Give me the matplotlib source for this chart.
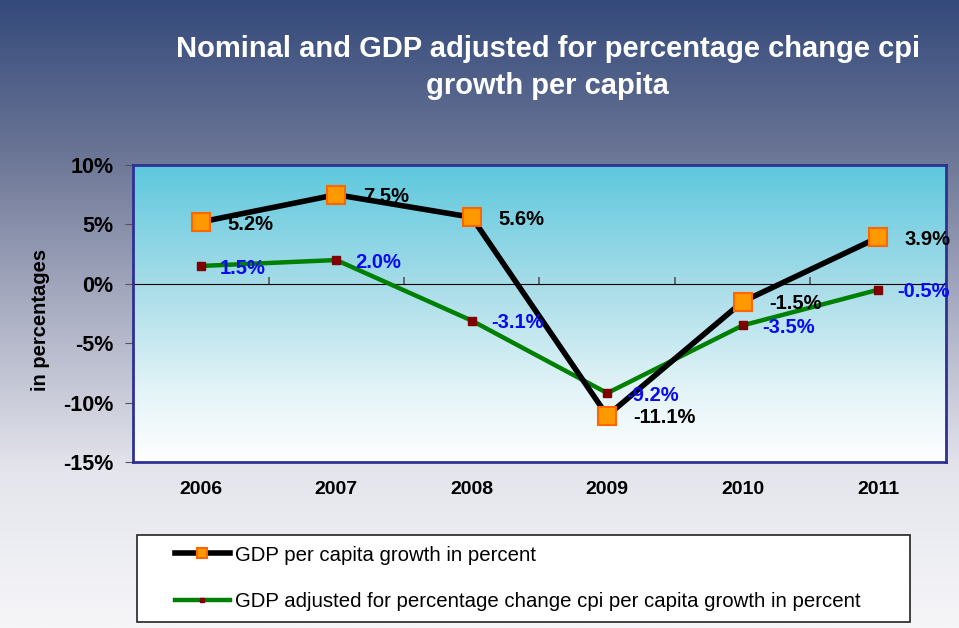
import numpy as np
import matplotlib
matplotlib.use("Agg")
import matplotlib.pyplot as plt
from matplotlib.colors import LinearSegmentedColormap
from matplotlib.patches import Rectangle

# data
years = ['2006', '2007', '2008', '2009', '2010', '2011']
gdp_growth = [5.2, 7.5, 5.6, -11.1, -1.5, 3.9]
gdp_adjusted = [1.5, 2.0, -3.1, -9.2, -3.5, -0.5]
y_ticks = [-15, -10, -5, 0, 5, 10]

plt.rcParams['font.family'] = ['Liberation Sans', 'DejaVu Sans']

fig = plt.figure(figsize=(9.59, 6.28), dpi=100)

# figure background gradient (dark slate blue -> near white)
bg = fig.add_axes([0, 0, 1, 1], zorder=-10)
bg_cmap = LinearSegmentedColormap.from_list('bg', [
    (0.0, (52/255, 74/255, 123/255)),
    (0.25, (108/255, 118/255, 150/255)),
    (0.5, (172/255, 176/255, 196/255)),
    (0.75, (228/255, 229/255, 236/255)),
    (1.0, (246/255, 246/255, 249/255))])
bg.imshow(np.linspace(0, 1, 256).reshape(-1, 1), cmap=bg_cmap, aspect='auto',
          extent=[0, 1, 0, 1], origin='upper')
bg.set_axis_off()

ax = fig.add_axes([0.1387, 0.2643, 0.8477, 0.473])
x = np.arange(len(years))

# plot area gradient (cyan -> white)
pa_cmap = LinearSegmentedColormap.from_list('pa', [
    (0.0, (92/255, 200/255, 221/255)),
    (0.4, (166/255, 220/255, 232/255)),
    (0.75, (226/255, 243/255, 247/255)),
    (1.0, (255/255, 255/255, 255/255))])
ax.imshow(np.linspace(0, 1, 256).reshape(-1, 1), cmap=pa_cmap, aspect='auto',
          extent=[0, 1, 0, 1], origin='upper', transform=ax.transAxes, zorder=0)

ax.plot(x, gdp_growth, color='black', lw=4, marker='s', ms=13,
        mfc='#FF9900', mec='#FF6600', mew=1.5, zorder=4,
        label='GDP per capita growth in percent')
ax.plot(x, gdp_adjusted, color='#008000', lw=3.2, marker='s', ms=5.5,
        mfc='#800000', mec='#800000', zorder=3,
        label='GDP adjusted for percentage change cpi per capita growth in percent')

for xi, v in zip(x, gdp_growth):
    ax.annotate('%.1f%%' % v, (xi, v), xytext=(19, -1.5), textcoords='offset points',
                ha='left', va='center', fontsize=14.5, fontweight='bold',
                color='black', zorder=6)
for xi, v in zip(x, gdp_adjusted):
    ax.annotate('%.1f%%' % v, (xi, v), xytext=(14, -1.5), textcoords='offset points',
                ha='left', va='center', fontsize=14.5, fontweight='bold',
                color='#0A0AF0', zorder=6)

ax.set_xlim(-0.5, len(years) - 0.5)
ax.set_ylim(-15, 10)
ax.set_yticks(y_ticks)
ax.set_yticklabels(['%d%%' % t for t in y_ticks], fontsize=15.5, fontweight='bold')
ax.set_xticks(x)
ax.set_xticklabels(years, fontsize=14, fontweight='bold')
ax.tick_params(axis='x', length=0, pad=14)
ax.tick_params(axis='y', length=6, color='#555555', pad=8)
for s in ax.spines.values():
    s.set_color('#2E3192')
    s.set_linewidth(2)

# zero line with category-boundary ticks
zero = ax.secondary_xaxis(0.6)
zero.set_xticks(np.arange(len(years) + 1) - 0.5)
zero.set_xticklabels([])
zero.tick_params(direction='out', length=5, color='#555555', width=1.2)
zero.spines['bottom'].set_color('#555555')
zero.spines['bottom'].set_linewidth(1.5)

fig.text(0.571, 0.892, 'Nominal and GDP adjusted for percentage change cpi\ngrowth per capita',
         ha='center', va='center', fontsize=21, fontweight='bold', color='white',
         linespacing=1.4)
fig.text(0.042, 0.49, 'in percentages', rotation=90, ha='center', va='center',
         fontsize=14.5, fontweight='bold')

# legend box
fig.patches.append(Rectangle((0.1429, 0.0096), 0.806, 0.1385, transform=fig.transFigure,
                             facecolor='white', edgecolor='#222222', lw=1.2, zorder=1))
leg = fig.legend(loc='center left', bbox_to_anchor=(0.182, 0.079), frameon=False,
                 fontsize=14.7, handlelength=2.7, handletextpad=0.25, labelspacing=1.35,
                 borderpad=0, borderaxespad=0, markerscale=0.6, numpoints=1)

fig.savefig('out.png', dpi=100)
